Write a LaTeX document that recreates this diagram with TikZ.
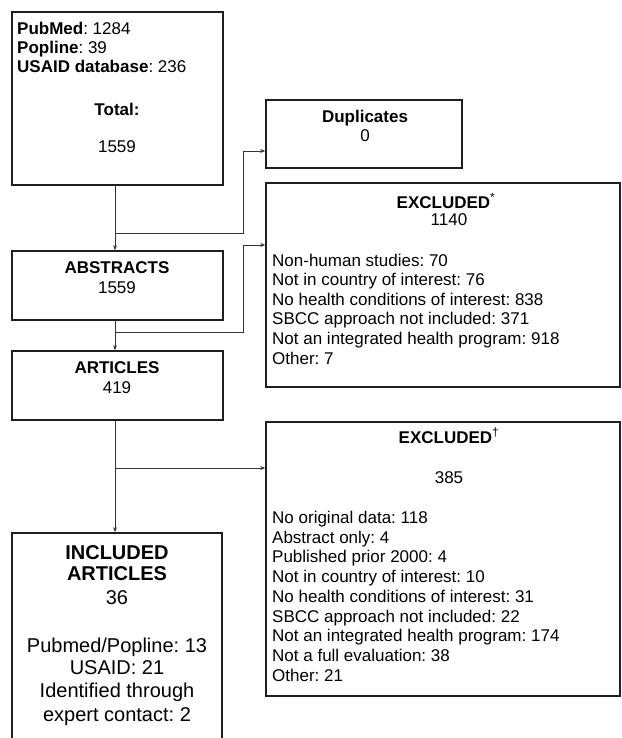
\documentclass[tikz,border=0pt]{standalone}
\usepackage{fontspec}
\setmainfont{Liberation Sans}
\usetikzlibrary{arrows.meta}
\frenchspacing
\begin{document}
\begin{tikzpicture}[x=1pt,y=-1pt,
  box/.style={draw=black!88, line width=1.6pt, inner sep=0pt},
  conn/.style={draw=black!80, line width=0.9pt},
  arr/.style={conn, -{Stealth[length=5pt,width=4pt]}},
  txt/.style={inner sep=0pt, anchor=base, font=\fontsize{17}{19.5}\selectfont},
  ltxt/.style={txt, anchor=base west},
  btxt/.style={inner sep=0pt, anchor=base, font=\fontsize{20}{23}\selectfont}]
\useasboundingbox (0,0) rectangle (621,738);
\clip (0,0) rectangle (621,738);
% boxes
\node[box, minimum width=211pt, minimum height=173pt] (src) at (117.5,98.5) {};
\node[box, minimum width=196pt, minimum height=68pt] (dup) at (364,134) {};
\node[box, minimum width=211pt, minimum height=69pt] (abs) at (117.5,285.5) {};
\node[box, minimum width=211pt, minimum height=69pt] (art) at (117.5,385.5) {};
\node[box, minimum width=354pt, minimum height=204pt] (exa) at (443,285) {};
\node[box, minimum width=354pt, minimum height=274pt] (exb) at (443,559) {};
\node[box, minimum width=210pt, minimum height=227pt] (inc) at (117,646.5) {};
% source texts
\node[ltxt] (s1) at (17,35) {\textbf{PubMed}: 1284};
\node[ltxt] (s2) at (17,54) {\textbf{Popline}: 39};
\node[ltxt] (s3) at (17,73) {\textbf{USAID database}: 236};
\node[txt] (s4) at (117,116) {\textbf{Total:}};
\node[txt] (s5) at (117,153) {1559};
% duplicates
\node[txt] (d1) at (365,123) {\textbf{Duplicates}};
\node[txt] (d2) at (365,142) {0};
% abstracts / articles
\node[txt] (a1) at (117,273) {\textbf{ABSTRACTS}};
\node[txt] (a2) at (117,293) {1559};
\node[txt] (r1) at (117,373) {\textbf{ARTICLES}};
\node[txt] (r2) at (117,393) {419};
% excluded 1
\node[txt] (e1) at (446,208) {\textbf{EXCLUDED}\textsuperscript{*}};
\node[txt] (e2) at (449,225) {1140};
\foreach \t [count=\i from 0] in {Non-human studies: 70, Not in country of interest: 76, No health conditions of interest: 838, SBCC approach not included: 371, Not an integrated health program: 918, Other: 7}
  \node[ltxt] (ea\i) at (272,266+19.6*\i) {\t};
% excluded 2
\node[txt] (f1) at (449,443) {\textbf{EXCLUDED}\textsuperscript{†}};
\node[txt] (f2) at (449,483) {385};
\foreach \t [count=\i from 0] in {No original data: 118, Abstract only: 4, Published prior 2000: 4, Not in country of interest: 10, No health conditions of interest: 31, SBCC approach not included: 22, Not an integrated health program: 174, Not a full evaluation: 38, Other: 21}
  \node[ltxt] (eb\i) at (272,523.3+19.75*\i) {\t};
% included
\node[btxt] (i1) at (117,559) {\textbf{INCLUDED}};
\node[btxt] (i2) at (117,580.5) {\textbf{ARTICLES}};
\node[btxt] (i3) at (117,604) {36};
\node[btxt] (i4) at (117,652) {Pubmed/Popline: 13};
\node[btxt] (i5) at (117,674.5) {USAID: 21};
\node[btxt] (i6) at (117,697.5) {Identified through};
\node[btxt] (i7) at (117,721) {expert contact: 2};
% connectors
\coordinate (j1) at (115,233);
\coordinate (j2) at (115,332);
\coordinate (j3) at (115,468);
\coordinate (k1) at (243,151);
\coordinate (k2) at (243,245);
\draw[arr] ([xshift=-2.5pt]src.south) -- ([xshift=-2.5pt]abs.north);
\draw[arr] ([xshift=-2.5pt]abs.south) -- ([xshift=-2.5pt]art.north);
\draw[arr] ([xshift=-2.5pt]art.south) -- ([xshift=-2pt]inc.north);
\draw[arr] (j1) -| (k1) -- (k1 -| dup.west);
\draw[arr] (j2) -| (k2) -- (k2 -| exa.west);
\draw[arr] (j3) -- (j3 -| exb.west);
\end{tikzpicture}
\end{document}
